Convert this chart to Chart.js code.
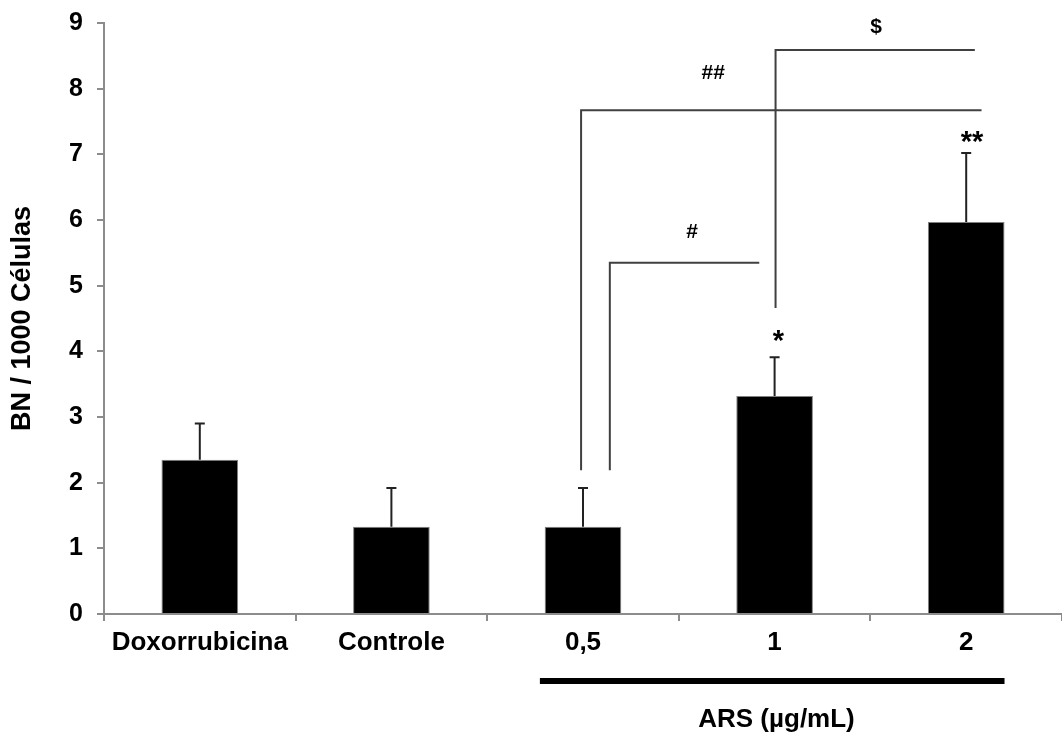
<!DOCTYPE html>
<html>
<head>
<meta charset="utf-8">
<script src="https://cdn.jsdelivr.net/npm/chart.js@4.4.1/dist/chart.umd.min.js"></script>
<style>
  body { margin: 0; background: #fff; }
  #wrap { width: 1062px; height: 732px; }
</style>
</head>
<body>
<div id="wrap"><canvas id="chart"></canvas></div>
<script>
const categories = ['Doxorrubicina', 'Controle', '0,5', '1', '2'];
const means = [2.35, 1.33, 1.33, 3.32, 5.97];
const errors = [0.55, 0.59, 0.59, 0.59, 1.05];

// significance brackets (x in category units, y in data units)
const bracketLabels = ['#', '##', '$'];
const bracketX1 = [2.14, 1.99, 3.005];
const bracketX2 = [2.92, 4.08, 4.045];
const bracketYLow = [2.19, 2.19, 4.66];
const bracketYHigh = [5.35, 7.67, 8.59];
const bracketLabelX = [2.57, 2.68, 3.53];
const bracketLabelY = [5.82, 8.24, 8.94];

const starLabels = ['*', '**'];
const starX = [3.02, 4.03];
const starY = [4.23, 7.26];

const groupFrom = 1.775;
const groupTo = 4.2;
const groupLabel = 'ARS (µg/mL)';
const groupLabelX = 3.01;

const FONT = '"Liberation Sans", Arial, sans-serif';

const annotations = {
  id: 'annotations',
  afterDatasetsDraw(chart) {
    const ctx = chart.ctx;
    const x = chart.scales.x;
    const y = chart.scales.y;
    ctx.save();

    // error bars (upper only)
    ctx.strokeStyle = '#222';
    ctx.lineWidth = 2;
    means.forEach((m, i) => {
      const px = x.getPixelForValue(i);
      const top = y.getPixelForValue(m + errors[i]);
      ctx.beginPath();
      ctx.moveTo(px, y.getPixelForValue(m));
      ctx.lineTo(px, top);
      ctx.moveTo(px - 5, top);
      ctx.lineTo(px + 5, top);
      ctx.stroke();
    });

    // brackets
    ctx.strokeStyle = '#404040';
    ctx.lineWidth = 2;
    bracketLabels.forEach((lab, i) => {
      const x1 = x.getPixelForValue(bracketX1[i]);
      const x2 = x.getPixelForValue(bracketX2[i]);
      const yl = y.getPixelForValue(bracketYLow[i]);
      const yh = y.getPixelForValue(bracketYHigh[i]);
      ctx.beginPath();
      ctx.moveTo(x1, yl);
      ctx.lineTo(x1, yh);
      ctx.lineTo(x2, yh);
      ctx.stroke();
    });

    ctx.fillStyle = '#000';
    ctx.textAlign = 'center';
    ctx.textBaseline = 'middle';
    ctx.font = 'bold 21px ' + FONT;
    bracketLabels.forEach((lab, i) => {
      ctx.fillText(lab, x.getPixelForValue(bracketLabelX[i]), y.getPixelForValue(bracketLabelY[i]));
    });
    ctx.font = 'bold 29px ' + FONT;
    starLabels.forEach((lab, i) => {
      ctx.fillText(lab, x.getPixelForValue(starX[i]), y.getPixelForValue(starY[i]) + 6);
    });

    // group line under the ARS doses
    const gy = x.bottom - 51;
    ctx.strokeStyle = '#000';
    ctx.lineWidth = 6;
    ctx.beginPath();
    ctx.moveTo(x.getPixelForValue(groupFrom), gy);
    ctx.lineTo(x.getPixelForValue(groupTo), gy);
    ctx.stroke();
    ctx.font = 'bold 26px ' + FONT;
    ctx.fillText(groupLabel, x.getPixelForValue(groupLabelX), x.bottom - 12);

    ctx.restore();
  }
};

new Chart('chart', {
  type: 'bar',
  data: {
    labels: categories,
    datasets: [{
      data: means,
      backgroundColor: '#000',
      borderColor: '#808080',
      borderWidth: 1,
      barPercentage: 0.4,
      categoryPercentage: 1.0
    }]
  },
  plugins: [annotations],
  options: {
    responsive: true,
    maintainAspectRatio: false,
    animation: false,
    layout: { padding: { top: 23, right: 0, left: 0, bottom: 0 } },
    plugins: {
      legend: { display: false },
      tooltip: { enabled: false }
    },
    scales: {
      x: {
        offset: true,
        grid: {
          offset: true,
          drawOnChartArea: false,
          drawTicks: true,
          tickLength: 7,
          color: '#8c8c8c',
          lineWidth: 2
        },
        border: { color: '#8c8c8c', width: 2 },
        ticks: {
          color: '#000',
          padding: 6,
          maxRotation: 0,
          font: { family: FONT, size: 26, weight: 'bold' }
        },
        afterFit(scale) { scale.height = 118; }
      },
      y: {
        min: 0,
        max: 9,
        grid: {
          drawOnChartArea: false,
          drawTicks: true,
          tickLength: 7,
          color: '#8c8c8c',
          lineWidth: 2
        },
        border: { color: '#8c8c8c', width: 2 },
        ticks: {
          stepSize: 1,
          color: '#000',
          padding: 14,
          font: { family: FONT, size: 25, weight: 'bold', lineHeight: 0.7 }
        },
        title: {
          display: true,
          text: 'BN / 1000 Células',
          color: '#000',
          padding: { top: 6, bottom: 0 },
          font: { family: FONT, size: 27, weight: 'bold' }
        },
        afterFit(scale) { scale.width = 104; }
      }
    }
  }
});
</script>
</body>
</html>
